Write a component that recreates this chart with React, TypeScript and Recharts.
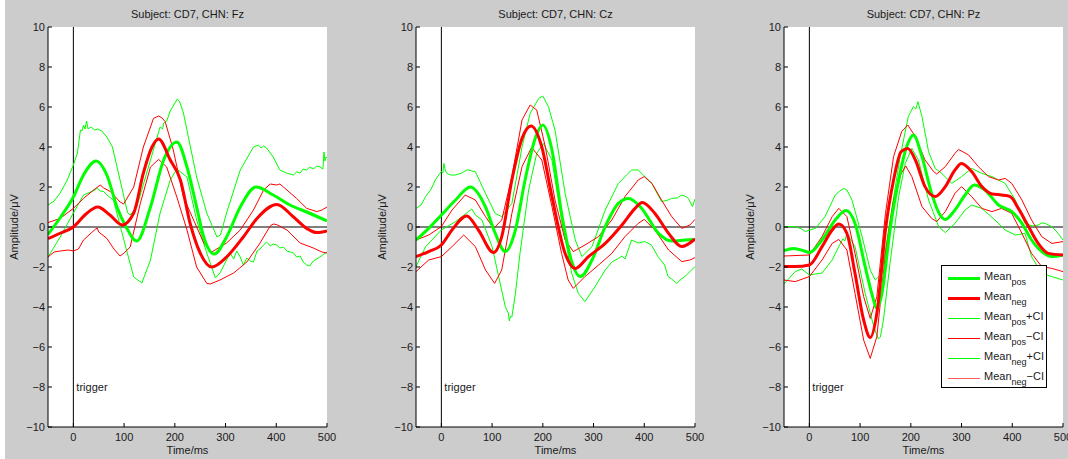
import { LineChart, Line, XAxis, YAxis, CartesianGrid, ReferenceLine } from 'recharts';

type Pt = [number, number];

const timeTicks = [0, 100, 200, 300, 400, 500];
const ampTicks = [-10, -8, -6, -4, -2, 0, 2, 4, 6, 8, 10];

// ---- Fz ----
const fzPos: Pt[] = [[-50, -0.37], [-25, 0.5], [0, 1.5], [20, 2.6], [45, 3.3], [66, 2.6], [86, 1.0], [104, 0], [125, -0.7], [152, 1.0], [178, 3.35], [204, 4.25], [224, 3.0], [243, 1.0], [257, -0.5], [278, -1.35], [302, -0.5], [329, 1.0], [360, 2.0], [394, 1.6], [427, 1.1], [460, 0.75], [500, 0.3]];
const fzNeg: Pt[] = [[-50, -0.58], [-25, -0.3], [0, 0], [25, 0.65], [48, 1.0], [72, 0.6], [96, 0.1], [119, 0.7], [138, 2.7], [155, 4.0], [168, 4.4], [191, 3.35], [211, 2.35], [230, 0.2], [250, -1.3], [273, -2.0], [302, -1.5], [335, -0.5], [362, 0.43], [401, 1.13], [434, 0.5], [460, -0.07], [480, -0.28], [500, -0.2]];
const fzPosUp: Pt[] = [[-50, 1.1], [-38, 1.3], [-26, 1.7], [-13, 2.3], [0, 3.1], [8, 3.7], [14, 4.85], [17, 4.8], [20, 5.1], [23, 4.9], [26, 5.3], [29, 4.9], [35, 5.0], [42, 4.85], [48, 4.9], [56, 4.8], [66, 4.5], [77, 4.0], [92, 2.35], [107, 0.7], [112, 0.6], [125, 1.0], [152, 3.35], [171, 5.0], [176, 4.9], [178, 5.2], [184, 5.3], [191, 5.8], [198, 6.1], [205, 6.4], [209, 6.3], [217, 5.7], [243, 2.5], [263, 0.7], [283, -0.5], [290, -0.4], [302, 0.7], [329, 2.85], [355, 4.0], [365, 4.1], [370, 3.95], [375, 4.05], [381, 3.95], [394, 3.5], [407, 2.85], [420, 2.7], [434, 2.6], [440, 2.75], [447, 2.7], [453, 2.9], [460, 2.85], [466, 3.0], [473, 2.9], [480, 3.05], [486, 3.0], [492, 2.9], [494, 3.75], [496, 3.3], [498, 3.5], [500, 3.45]];
const fzPosLo: Pt[] = [[-50, -1.5], [-26, -0.5], [0, 0.7], [20, 1.6], [43, 1.85], [47, 1.95], [53, 1.8], [60, 1.77], [66, 1.6], [79, 1.35], [99, -0.6], [119, -2.5], [135, -2.8], [152, -1.65], [171, 0.7], [191, 2.35], [204, 2.9], [224, 2.5], [243, 0.35], [263, -1.3], [280, -2.55], [289, -2.3], [302, -1.65], [309, -1.3], [316, -1.6], [322, -1.2], [329, -1.5], [335, -1.9], [342, -1.55], [349, -1.7], [355, -1.75], [362, -1.2], [368, -1.1], [375, -0.9], [381, -0.75], [388, -0.95], [394, -0.85], [401, -0.9], [407, -1.05], [414, -1.0], [421, -1.2], [434, -1.3], [440, -1.5], [447, -1.45], [453, -1.75], [460, -1.9], [466, -1.95], [473, -1.7], [486, -1.5], [500, -1.25]];
const fzNegUp: Pt[] = [[-50, 0.22], [-26, 0.43], [0, 0.93], [20, 1.43], [40, 1.85], [53, 2.1], [60, 1.95], [73, 1.77], [92, 1.25], [99, 1.15], [119, 2.0], [138, 4.0], [158, 5.43], [168, 5.55], [175, 5.45], [181, 5.27], [197, 3.85], [217, 1.5], [237, 0.35], [257, -0.8], [273, -1.25], [302, -0.8], [329, -0.15], [355, 0.85], [375, 1.85], [388, 2.15], [401, 2.1], [407, 2.15], [414, 2.0], [440, 1.43], [460, 0.93], [480, 0.77], [490, 0.85], [500, 1.0]];
const fzNegLo: Pt[] = [[-50, -1.5], [-38, -1.25], [-26, -1.2], [-10, -1.15], [0, -1.2], [10, -1.1], [20, -0.65], [35, -0.3], [43, -0.12], [47, -0.05], [50, -0.25], [66, -0.57], [80, -1.1], [92, -1.45], [100, -1.3], [112, -1.0], [132, 1.18], [152, 3.0], [168, 3.38], [184, 3.0], [204, 1.5], [224, -0.15], [243, -2.0], [263, -2.82], [270, -2.85], [289, -2.65], [316, -2.3], [342, -1.75], [368, -0.8], [388, 0.05], [394, 0.15], [401, 0.12], [421, -0.15], [447, -0.8], [473, -1.05], [490, -1.25], [500, -1.3]];

// ---- Cz ----
const czPos: Pt[] = [[-50, -0.65], [-25, -0.07], [0, 0.6], [28, 1.35], [57, 2.0], [87, 1.0], [106, -0.3], [126, -1.23], [146, -0.15], [165, 2.35], [185, 4.43], [200, 5.1], [218, 3.85], [237, 0.68], [257, -1.73], [274, -2.48], [297, -1.65], [323, 0.02], [349, 1.18], [369, 1.43], [395, 0.93], [428, -0.32], [454, -0.7], [480, -0.65], [500, -0.62]];
const czNeg: Pt[] = [[-50, -1.48], [-25, -1.23], [0, -0.9], [21, -0.15], [50, 0.55], [73, -0.15], [103, -1.28], [119, -0.48], [139, 2.35], [159, 4.43], [177, 5.05], [198, 4.0], [218, 1.52], [244, -1.32], [264, -2.07], [290, -1.48], [323, -0.82], [356, 0.1], [382, 0.93], [396, 1.23], [421, 0.68], [448, -0.32], [474, -0.98], [500, -0.6]];
const czPosUp: Pt[] = [[-50, 0.93], [-40, 1.1], [-31, 1.52], [-20, 1.9], [-12, 2.35], [-5, 2.6], [0, 2.77], [3, 2.7], [5, 3.18], [8, 2.8], [11, 2.68], [18, 2.6], [28, 2.6], [40, 2.7], [50, 2.85], [54, 2.85], [60, 2.8], [67, 2.77], [87, 1.68], [106, 0.68], [119, 0.52], [139, 1.18], [159, 4.0], [175, 5.68], [192, 6.43], [200, 6.55], [211, 6.02], [224, 4.85], [244, 1.68], [264, -0.65], [277, -1.48], [297, -0.98], [323, 0.85], [349, 2.18], [375, 2.85], [388, 2.85], [415, 2.18], [434, 1.27], [447, 1.35], [454, 1.43], [465, 1.45], [474, 1.6], [480, 1.55], [487, 1.43], [495, 1.02], [500, 1.4]];
const czPosLo: Pt[] = [[-50, -1.98], [-31, -0.98], [0, -0.15], [28, 0.27], [50, 0.7], [60, 0.9], [67, 0.6], [80, 0.35], [100, -0.98], [113, -2.48], [126, -3.98], [132, -4.3], [134, -4.7], [136, -4.48], [139, -4.5], [146, -3.32], [155, -1.32], [172, 1.85], [188, 3.68], [201, 4.18], [218, 3.35], [237, 0.35], [257, -2.32], [270, -3.32], [283, -3.73], [303, -2.98], [323, -2.15], [336, -1.75], [349, -1.57], [356, -1.45], [362, -1.6], [375, -0.65], [388, -0.8], [401, -0.73], [414, -0.9], [427, -1.48], [440, -1.9], [447, -2.48], [454, -2.6], [464, -2.82], [473, -2.6], [480, -2.48], [500, -1.98]];
const czNegUp: Pt[] = [[-50, -0.65], [-25, -0.4], [0, 0.02], [21, 0.85], [47, 1.6], [67, 1.35], [87, 0.52], [103, -0.07], [119, 0.35], [139, 2.52], [159, 5.35], [175, 6.1], [188, 5.85], [205, 4.0], [224, 1.35], [244, -0.65], [260, -1.23], [283, -0.9], [310, -0.48], [336, 0.35], [362, 1.52], [388, 2.35], [400, 2.52], [415, 2.18], [434, 1.35], [454, 0.52], [474, -0.07], [490, 0.1], [500, 0.38]];
const czNegLo: Pt[] = [[-50, -2.23], [-25, -1.65], [0, -1.48], [21, -0.98], [44, -0.4], [67, -0.98], [87, -2.15], [105, -2.82], [119, -2.15], [139, 0.68], [159, 3.02], [178, 3.98], [198, 3.35], [218, 1.02], [237, -1.32], [250, -2.65], [260, -3.07], [283, -2.48], [310, -1.9], [336, -1.32], [362, -0.48], [388, 0.18], [400, 0.38], [421, -0.15], [448, -1.15], [474, -1.73], [490, -1.65], [500, -1.53]];

// ---- Pz ----
const pzPos: Pt[] = [[-50, -1.18], [-31, -1.07], [-10, -1.2], [0, -1.28], [25, -0.65], [51, 0.35], [72, 0.82], [90, 0.18], [110, -1.98], [123, -3.32], [133, -4.07], [143, -3.32], [159, -0.15], [176, 2.35], [192, 4.02], [205, 4.6], [222, 3.52], [241, 1.68], [256, 0.68], [268, 0.38], [287, 0.85], [307, 1.6], [325, 2.1], [346, 1.85], [373, 1.1], [399, 0.77], [419, 0.18], [438, -0.65], [458, -1.23], [478, -1.48], [500, -1.4]];
const pzNeg: Pt[] = [[-50, -1.98], [-28, -1.98], [0, -1.9], [25, -0.98], [45, -0.15], [58, 0.15], [74, -0.32], [90, -2.32], [107, -4.65], [120, -5.52], [133, -4.32], [150, -0.15], [166, 2.35], [181, 3.77], [194, 3.93], [209, 3.35], [228, 2.02], [248, 1.52], [268, 2.02], [287, 2.85], [300, 3.18], [320, 2.77], [340, 2.02], [360, 1.65], [379, 1.6], [396, 1.52], [412, 0.93], [432, 0.02], [451, -0.82], [471, -1.32], [500, -1.4]];
const pzPosUp: Pt[] = [[-50, 0.02], [-28, 0.02], [-15, -0.1], [-8, -0.23], [0, -0.15], [12, -0.07], [31, 0.52], [51, 1.6], [60, 1.8], [68, 1.93], [74, 1.85], [84, 1.35], [104, -0.48], [120, -2.15], [130, -2.65], [136, -2.5], [143, -2.32], [159, 0.35], [179, 3.52], [195, 5.52], [205, 6.02], [210, 5.9], [214, 6.27], [222, 5.52], [235, 3.77], [248, 2.93], [261, 2.68], [281, 2.18], [300, 2.52], [320, 2.93], [340, 2.68], [360, 2.52], [386, 2.18], [406, 1.35], [425, 0.18], [440, 0.05], [451, 0.1], [458, 0.2], [465, 0.18], [471, 0.1], [478, 0.02], [490, -0.3], [500, -0.65]];
const pzPosLo: Pt[] = [[-50, -2.85], [-28, -2.23], [-15, -2.1], [0, -2.4], [12, -2.35], [25, -2.3], [45, -1.65], [58, -0.98], [66, -0.6], [70, -0.7], [74, -0.32], [90, -0.98], [110, -3.32], [127, -4.98], [136, -5.6], [140, -5.5], [146, -4.65], [159, -1.82], [176, 1.52], [189, 3.18], [202, 3.93], [215, 3.35], [235, 1.35], [255, 0.02], [268, -0.28], [287, 0.18], [307, 0.85], [320, 1.1], [340, 0.93], [366, 0.35], [386, -0.15], [406, -0.4], [425, -0.32], [438, -1.48], [458, -2.32], [478, -2.48], [500, -2.65]];
const pzNegUp: Pt[] = [[-50, -1.45], [0, -1.4], [25, -0.48], [45, 0.52], [58, 0.93], [74, 0.52], [90, -1.32], [107, -3.48], [120, -4.57], [133, -3.48], [150, 0.68], [166, 3.52], [182, 4.77], [194, 5.1], [209, 4.52], [228, 3.35], [245, 2.77], [251, 2.65], [268, 3.02], [287, 3.68], [294, 3.88], [314, 3.6], [333, 3.02], [353, 2.52], [373, 2.35], [386, 2.43], [399, 2.18], [419, 1.35], [438, 0.35], [458, -0.48], [478, -0.82], [500, -0.73]];
const pzNegLo: Pt[] = [[-50, -2.65], [-28, -2.73], [0, -2.48], [25, -1.65], [45, -0.82], [58, -0.62], [74, -1.15], [90, -3.32], [107, -5.65], [120, -6.57], [133, -5.48], [150, -1.32], [166, 1.35], [181, 2.68], [190, 3.05], [202, 2.52], [222, 1.02], [241, 0.43], [251, 0.27], [268, 0.77], [287, 1.68], [300, 2.02], [320, 1.52], [340, 0.93], [360, 0.77], [379, 0.93], [399, 0.68], [419, -0.32], [438, -1.32], [458, -1.98], [478, -2.07], [500, -2.23]];

const panels = [
  { channel: 'Fz', pos: fzPos, neg: fzNeg, posUp: fzPosUp, posLo: fzPosLo, negUp: fzNegUp, negLo: fzNegLo },
  { channel: 'Cz', pos: czPos, neg: czNeg, posUp: czPosUp, posLo: czPosLo, negUp: czNegUp, negLo: czNegLo },
  { channel: 'Pz', pos: pzPos, neg: pzNeg, posUp: pzPosUp, posLo: pzPosLo, negUp: pzNegUp, negLo: pzNegLo },
];

const GREEN = '#00ff00';
const RED = '#ff0000';
const FONT = '"Liberation Sans", Arial, Helvetica, sans-serif';
const TEXT = '#1a1a1a';

const toRows = (pts: Pt[]) => pts.map(([t, v]) => ({ t, v }));
const fmt = (v: number) => (v < 0 ? `\u2212${-v}` : `${v}`);

// eslint-disable-next-line @typescript-eslint/no-explicit-any
function TriggerLabel(props: any) {
  const vb = props.viewBox || {};
  return (
    <text x={vb.x + 3} y={vb.y + vb.height - 36} fontSize={11} fontFamily={FONT} fill={TEXT}>
      trigger
    </text>
  );
}

const legendRows = [
  { sub: 'pos', tail: '', color: GREEN, width: 3 },
  { sub: 'neg', tail: '', color: RED, width: 3 },
  { sub: 'pos', tail: '+CI', color: GREEN, width: 1 },
  { sub: 'pos', tail: '\u2212CI', color: RED, width: 1 },
  { sub: 'neg', tail: '+CI', color: GREEN, width: 1 },
  { sub: 'neg', tail: '\u2212CI', color: '#ff5a5a', width: 1 },
];

function LegendBox() {
  return (
    <div
      style={{
        position: 'absolute',
        left: 205,
        top: 265,
        width: 104,
        height: 121,
        background: '#fff',
        border: '1px solid #000',
        fontFamily: FONT,
        fontSize: 11,
        color: TEXT,
      }}
    >
      {legendRows.map((r, i) => (
        <div key={i} style={{ position: 'absolute', left: 0, top: 4 + i * 20, height: 20, width: 104 }}>
          <div style={{ position: 'absolute', left: 6, top: r.width > 1 ? 7 : 8, width: 32, height: r.width, background: r.color }} />
          <div style={{ position: 'absolute', left: 42, top: 0, whiteSpace: 'nowrap', lineHeight: '12px' }}>
            Mean<span style={{ fontSize: 9, position: 'relative', top: 5 }}>{r.sub}</span>
            {r.tail}
          </div>
        </div>
      ))}
    </div>
  );
}

// eslint-disable-next-line @typescript-eslint/no-explicit-any
function Panel({ p, left, showLegend }: any) {
  const thin = [
    { key: 'posUp', data: p.posUp, color: GREEN },
    { key: 'posLo', data: p.posLo, color: GREEN },
    { key: 'negUp', data: p.negUp, color: RED },
    { key: 'negLo', data: p.negLo, color: RED },
  ];
  return (
    <div style={{ position: 'absolute', left, top: 0, width: 352, height: 459 }}>
      <div
        style={{
          position: 'absolute', left: 48, top: 8, width: 279, textAlign: 'center',
          fontFamily: FONT, fontSize: 11, lineHeight: '12px', color: TEXT,
        }}
      >
        Subject: CD7, CHN: {p.channel}
      </div>
      <div
        style={{
          position: 'absolute', left: 14 - 50, top: 221, width: 100, textAlign: 'center',
          fontFamily: FONT, fontSize: 11, lineHeight: '12px', color: TEXT, transform: 'rotate(-90deg)',
        }}
      >
        Amplitude/μV
      </div>
      <div
        style={{
          position: 'absolute', left: 48, top: 444, width: 279, textAlign: 'center',
          fontFamily: FONT, fontSize: 11, lineHeight: '12px', color: TEXT,
        }}
      >
        Time/ms
      </div>
      <div style={{ position: 'absolute', left: 0, top: 0 }}>
        <LineChart width={352} height={459} margin={{ top: 27, right: 25, bottom: 0, left: 0 }}>
          <CartesianGrid xAxisId="b" yAxisId="l" fill="#fff" horizontal={false} vertical={false} />
          <XAxis
            xAxisId="b" type="number" dataKey="t" domain={[-50, 500]} ticks={timeTicks}
            allowDataOverflow height={32} tickSize={-4} tickMargin={10} stroke="#000"
            tick={{ fill: TEXT, fontSize: 11, fontFamily: FONT }} tickFormatter={fmt} interval={0}
          />
          <XAxis
            xAxisId="top" orientation="top" type="number" domain={[-50, 500]} ticks={timeTicks}
            allowDataOverflow height={0} tickSize={-4} tick={false} stroke="#000" interval={0}
          />
          <YAxis
            yAxisId="l" type="number" domain={[-10, 10]} ticks={ampTicks} allowDataOverflow
            width={48} tickSize={-4} tickMargin={7} stroke="#000"
            tick={{ fill: TEXT, fontSize: 11, fontFamily: FONT }} tickFormatter={fmt} interval={0}
          />
          <YAxis
            yAxisId="r" orientation="right" type="number" domain={[-10, 10]} ticks={ampTicks}
            allowDataOverflow width={0} tickSize={-4} tick={false} stroke="#000" interval={0}
          />
          <ReferenceLine xAxisId="b" yAxisId="l" y={0} stroke="#000" strokeWidth={1} />
          <ReferenceLine xAxisId="b" yAxisId="l" x={0} stroke="#000" strokeWidth={1} label={TriggerLabel} />
          {thin.map((s) => (
            <Line
              key={s.key} xAxisId="b" yAxisId="l" data={toRows(s.data)} dataKey="v" type="linear"
              stroke={s.color} strokeWidth={1} dot={false} activeDot={false} isAnimationActive={false}
            />
          ))}
          <Line
            xAxisId="b" yAxisId="l" data={toRows(p.pos)} dataKey="v" type="monotone"
            stroke={GREEN} strokeWidth={3} dot={false} activeDot={false} isAnimationActive={false}
          />
          <Line
            xAxisId="b" yAxisId="l" data={toRows(p.neg)} dataKey="v" type="monotone"
            stroke={RED} strokeWidth={3} dot={false} activeDot={false} isAnimationActive={false}
          />
        </LineChart>
      </div>
      {showLegend && <LegendBox />}
    </div>
  );
}

export default function App() {
  return (
    <div style={{ position: 'absolute', left: 0, top: 0, width: 1068, height: 459, background: '#fff', overflow: 'hidden' }}>
      <div style={{ position: 'absolute', left: 5, top: 0, width: 1063, height: 459, background: '#cccccc' }} />
      {panels.map((p, i) => (
        <Panel key={p.channel} p={p} left={368 * i} showLegend={i === 2} />
      ))}
    </div>
  );
}
